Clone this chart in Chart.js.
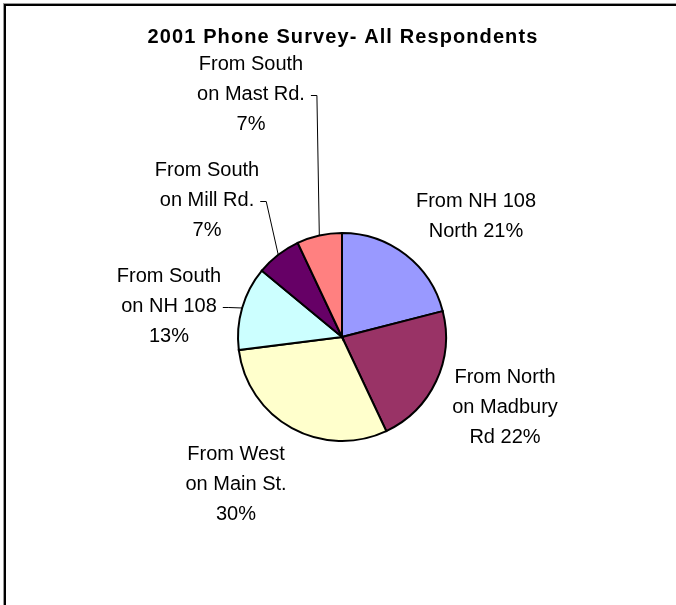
<!DOCTYPE html>
<html lang="en">
<head>
<meta charset="UTF-8">
<title>2001 Phone Survey- All Respondents</title>
<script src="https://cdn.jsdelivr.net/npm/chart.js@4"></script>
<style>
    html, body { margin: 0; padding: 0; background: #fff; }
    canvas { display: block; }
</style>
</head>
<body>
<canvas id="surveyPie" width="676" height="605"></canvas>
<script>
    // survey answers, clockwise from 12 o'clock
    const categories = [
        ['From NH 108', 'North'],
        ['From North', 'on Madbury', 'Rd'],
        ['From West', 'on Main St.'],
        ['From South', 'on NH 108'],
        ['From South', 'on Mill Rd.'],
        ['From South', 'on Mast Rd.']
    ];
    const percents = [21, 22, 30, 13, 7, 7];
    const sliceColors = ['#9999FF', '#993366', '#FFFFCC', '#CCFFFF', '#660066', '#FF8080'];

    // label layout: percent on its own line or appended, text centre offset from pie centre,
    // first baseline offset, and whether a leader line is drawn
    const pctOwnLine = [false, false, true, true, true, true];
    const labelDx = [134, 163, -106, -173, -135, -91];
    const labelDy = [-130, 46, 123, -55, -161, -267];
    const hasLeader = [false, false, false, true, true, true];

    const TITLE = '2001 Phone Survey- All Respondents';
    const LINE_H = 30;

    function labelLines(i) {
        const lines = categories[i].slice();
        const pct = percents[i] + '%';
        if (pctOwnLine[i]) lines.push(pct);
        else lines[lines.length - 1] += ' ' + pct;
        return lines;
    }

    const framePlugin = {
        id: 'frame',
        beforeDraw(chart) {
            const ctx = chart.ctx;
            ctx.save();
            ctx.fillStyle = '#fff';
            ctx.fillRect(0, 0, chart.width, chart.height);
            // outer chart border (runs off the right and bottom edges)
            ctx.fillStyle = '#999';
            ctx.fillRect(3, 3, chart.width, 1);
            ctx.fillRect(3, 3, 1, chart.height);
            ctx.fillStyle = '#000';
            ctx.fillRect(4, 4, chart.width, 2);
            ctx.fillRect(4, 4, 2, chart.height);
            ctx.restore();
        }
    };

    const labelPlugin = {
        id: 'sliceLabels',
        afterDraw(chart) {
            const ctx = chart.ctx;
            const arcs = chart.getDatasetMeta(0).data;
            const cx = arcs[0].x, cy = arcs[0].y;
            ctx.save();
            ctx.fillStyle = '#000';
            ctx.textAlign = 'center';
            ctx.textBaseline = 'alphabetic';

            // title
            ctx.font = 'bold 20px "Liberation Sans", Arial, sans-serif';
            ctx.letterSpacing = '1.1px';
            ctx.fillText(TITLE, cx + 1, 43);
            ctx.letterSpacing = '0px';

            ctx.font = '20px "Liberation Sans", Arial, sans-serif';
            ctx.strokeStyle = '#000';
            ctx.lineWidth = 1;
            arcs.forEach((arc, i) => {
                const lines = labelLines(i);
                const tx = cx + labelDx[i];
                const ty = cy + labelDy[i];
                lines.forEach((ln, k) => ctx.fillText(ln, tx, ty + k * LINE_H));

                if (hasLeader[i]) {
                    const p = arc.getProps(['startAngle', 'endAngle', 'outerRadius']);
                    const mid = (p.startAngle + p.endAngle) / 2;
                    const ex = cx + Math.cos(mid) * p.outerRadius;
                    const ey = cy + Math.sin(mid) * p.outerRadius;
                    const w = ctx.measureText(lines[1]).width;
                    const sx = tx + w / 2 + 6;
                    const sy = ty + LINE_H - 5;
                    ctx.beginPath();
                    ctx.moveTo(sx, sy + 0.5);
                    ctx.lineTo(sx + 6, sy + 0.5);
                    ctx.lineTo(ex, ey);
                    ctx.stroke();
                }
            });
            ctx.restore();
        }
    };

    new Chart(document.getElementById('surveyPie'), {
        type: 'pie',
        data: {
            labels: categories.map(c => c.join(' ')),
            datasets: [{
                data: percents,
                backgroundColor: sliceColors,
                borderColor: '#000',
                borderWidth: 2,
                borderJoinStyle: 'miter'
            }]
        },
        options: {
            responsive: false,
            animation: false,
            radius: 104,
            layout: { padding: { left: 8, right: 0, top: 69, bottom: 0 } },
            plugins: {
                legend: { display: false },
                tooltip: { enabled: false },
                title: { display: false }
            }
        },
        plugins: [framePlugin, labelPlugin]
    });
</script>
</body>
</html>
